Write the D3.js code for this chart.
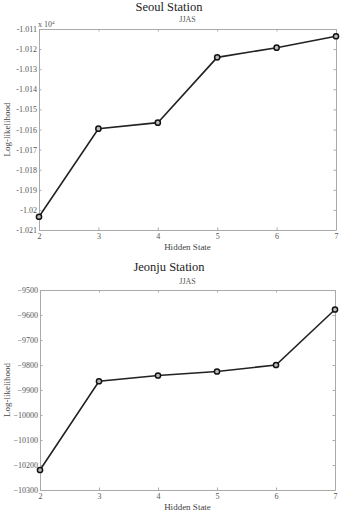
<!DOCTYPE html>
<html>
<head>
<meta charset="utf-8">
<script src="https://cdn.jsdelivr.net/npm/d3@7"></script>
<style>
  body { margin: 0; background: #fff; }
  svg { display: block; font-family: "Liberation Serif", "DejaVu Serif", serif; }
  .axis path, .axis line { stroke: #aaa; }
  .axis text { fill: #555; font-size: 8px; font-family: "Liberation Serif", serif; }
</style>
</head>
<body>
<div id="chart"></div>
<script>
// hidden states on the x axis
var states = [2, 3, 4, 5, 6, 7];

// log-likelihood values
var seoulValues = [-10203.4, -10159.6, -10156.6, -10124.1, -10119.3, -10113.6];
var jeonjuValues = [-10220, -9865, -9842, -9826, -9800, -9578];

// y tick values
var seoulTicks = [-10210, -10200, -10190, -10180, -10170, -10160, -10150, -10140, -10130, -10120, -10110];
var jeonjuTicks = [-10300, -10200, -10100, -10000, -9900, -9800, -9700, -9600, -9500];

var svg = d3.select("#chart")
    .append("svg")
    .attr("width", 341)
    .attr("height", 514);

function panel(opts) {
    var left = opts.left, top = opts.top, width = opts.width, height = opts.height;

    var g = svg.append("g")
        .attr("transform", "translate(" + left + "," + top + ")");

    var x = d3.scaleLinear().domain([2, 7]).range([0, width]);
    var y = d3.scaleLinear().domain(opts.domain).range([height, 0]);

    // left axis with labels
    g.append("g")
        .attr("class", "axis")
        .call(d3.axisLeft(y).tickValues(opts.ticks).tickFormat(opts.format)
            .tickSizeInner(-2.5).tickSizeOuter(0).tickPadding(2));

    // right axis, ticks only
    g.append("g")
        .attr("class", "axis")
        .attr("transform", "translate(" + width + ",0)")
        .call(d3.axisRight(y).tickValues(opts.ticks).tickFormat("")
            .tickSizeInner(-2.5).tickSizeOuter(0));

    // bottom axis with labels
    g.append("g")
        .attr("class", "axis")
        .attr("transform", "translate(0," + height + ")")
        .call(d3.axisBottom(x).tickValues(states).tickFormat(d3.format("d"))
            .tickSizeInner(-2.5).tickSizeOuter(0).tickPadding(3));

    // top axis, ticks only
    g.append("g")
        .attr("class", "axis")
        .call(d3.axisTop(x).tickValues(states).tickFormat("")
            .tickSizeInner(-2.5).tickSizeOuter(0));

    // the line
    var line = d3.line()
        .x(function (d, i) { return x(states[i]); })
        .y(function (d) { return y(d); });

    g.append("path")
        .datum(opts.values)
        .attr("fill", "none")
        .attr("stroke", "#222")
        .attr("stroke-width", 1.6)
        .attr("d", line);

    g.selectAll("circle")
        .data(opts.values)
        .enter()
        .append("circle")
        .attr("cx", function (d, i) { return x(states[i]); })
        .attr("cy", function (d) { return y(d); })
        .attr("r", 2.6)
        .attr("fill", "#bbb")
        .attr("stroke", "#111")
        .attr("stroke-width", 1.5);

    // titles
    svg.append("text")
        .attr("x", 169)
        .attr("y", opts.titleY)
        .attr("text-anchor", "middle")
        .attr("font-size", "12.5px")
        .attr("font-weight", "normal")
        .attr("fill", "#222")
        .text(opts.title);

    svg.append("text")
        .attr("x", left + width / 2)
        .attr("y", opts.subY)
        .attr("text-anchor", "middle")
        .attr("font-size", "8px")
        .attr("fill", "#555")
        .text("JJAS");

    // axis labels
    svg.append("text")
        .attr("x", left + width / 2)
        .attr("y", top + height + 20)
        .attr("text-anchor", "middle")
        .attr("font-size", "9px")
        .attr("fill", "#444")
        .text("Hidden State");

    svg.append("text")
        .attr("transform", "translate(10," + (top + height / 2) + ") rotate(-90)")
        .attr("text-anchor", "middle")
        .attr("font-size", "9px")
        .attr("fill", "#444")
        .text("Log-likelihood");

    return g;
}

// Seoul panel, labels in units of 10^4
panel({
    left: 39, top: 29, width: 297, height: 201,
    domain: [-10210, -10110],
    ticks: seoulTicks,
    format: function (d) { return String(+(d / 1e4).toFixed(4)); },
    values: seoulValues,
    title: "Seoul Station", titleY: 11, subY: 22
});

// multiplier label
var mult = svg.append("text")
    .attr("x", 38)
    .attr("y", 27)
    .attr("font-size", "8px")
    .attr("fill", "#555");
mult.append("tspan").text("x 10");
mult.append("tspan").attr("dy", -3).attr("font-size", "5px").text("4");

// Jeonju panel
panel({
    left: 40, top: 290, width: 295, height: 200,
    domain: [-10300, -9500],
    ticks: jeonjuTicks,
    format: d3.format("d"),
    values: jeonjuValues,
    title: "Jeonju Station", titleY: 271, subY: 284
});
</script>
</body>
</html>
